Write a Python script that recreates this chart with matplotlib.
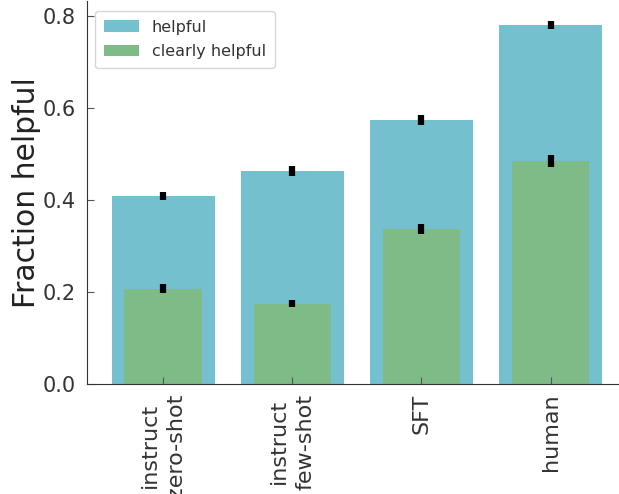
import numpy as np
import matplotlib.pyplot as plt

models = ['instruct\nzero-shot', 'instruct\nfew-shot', 'SFT', 'human']
helpful = [0.409, 0.463, 0.575, 0.781]
helpful_err = [0.009, 0.011, 0.011, 0.009]
clearly = [0.207, 0.175, 0.338, 0.485]
clearly_err = [0.010, 0.008, 0.011, 0.012]

txt = '#333333'
fig = plt.figure(figsize=(6.19, 4.94), dpi=100)
ax = fig.add_axes([0.1405, 0.2227, 0.8595, 0.7753])

x = np.arange(len(models))
ax.bar(x, helpful, width=0.8, color='#74C0CF', label='helpful')
ax.bar(x, clearly, width=0.6, color='#7FBB86', label='clearly helpful')
ax.errorbar(x, helpful, yerr=helpful_err, fmt='none', ecolor='black', elinewidth=4.5, capsize=0)
ax.errorbar(x, clearly, yerr=clearly_err, fmt='none', ecolor='black', elinewidth=4.5, capsize=0)

ax.set_xlim(-0.59, 3.53)
ax.set_ylim(0, 0.833)
ax.set_yticks([0.0, 0.2, 0.4, 0.6, 0.8])
ax.set_xticks(x)
ax.set_xticklabels(models, rotation=90, fontsize=16, color=txt, linespacing=1.4)
ax.tick_params(axis='y', labelsize=15, labelcolor=txt, pad=8)
ax.tick_params(direction='in', color='#555555', length=5)
ax.tick_params(axis='x', pad=7)
ax.set_ylabel('Fraction helpful', fontsize=21.5, color='#222222', labelpad=1.5)

for s in ['top', 'right']:
    ax.spines[s].set_visible(False)
for s in ['left', 'bottom']:
    ax.spines[s].set_color('#333333')

leg = ax.legend(loc='upper left', fontsize=11.5, handlelength=2.2, borderpad=0.55,
                labelspacing=0.6, bbox_to_anchor=(0.0, 0.995))
for t in leg.get_texts():
    t.set_color(txt)

fig.savefig('out.png', dpi=100)
